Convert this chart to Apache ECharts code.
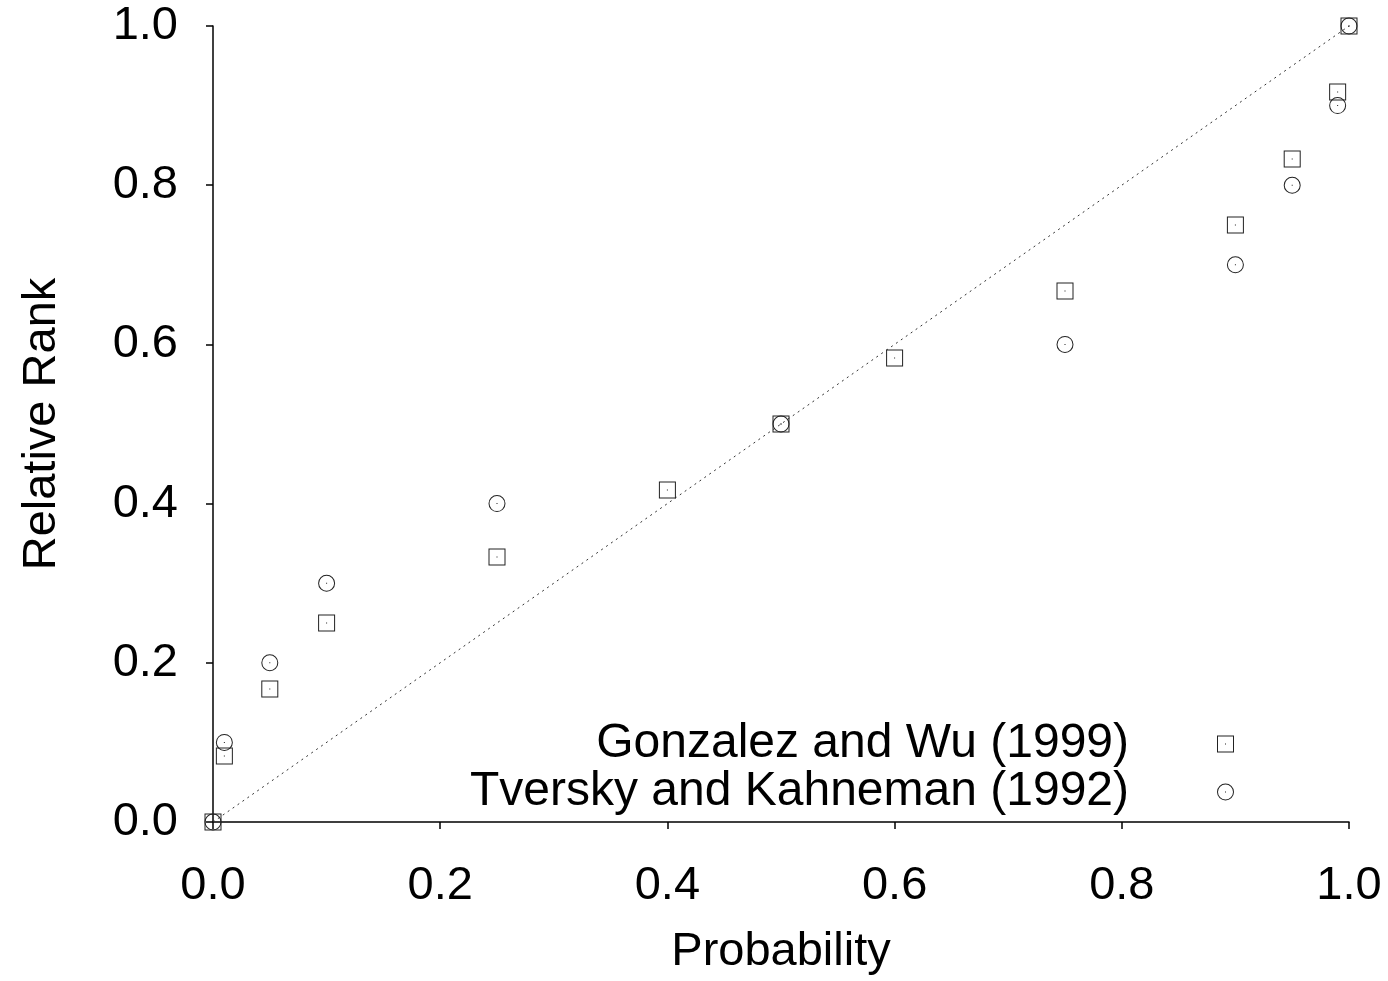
<!DOCTYPE html>
<html>
<head>
<meta charset="utf-8">
<script src="https://cdn.jsdelivr.net/npm/echarts@6/dist/echarts.min.js"></script>
<style>html,body{margin:0;padding:0;background:#fff}#c{width:1388px;height:981px}</style>
</head>
<body>
<div id="c"></div>
<script>
var gwProb = [0, 0.01, 0.05, 0.1, 0.25, 0.4, 0.5, 0.6, 0.75, 0.9, 0.95, 0.99, 1];
var gwRank = [0, 0.083, 0.167, 0.25, 0.333, 0.417, 0.5, 0.583, 0.667, 0.75, 0.833, 0.917, 1];
var tkProb = [0, 0.01, 0.05, 0.1, 0.25, 0.5, 0.75, 0.9, 0.95, 0.99, 1];
var tkRank = [0, 0.1, 0.2, 0.3, 0.4, 0.5, 0.6, 0.7, 0.8, 0.9, 1];
var diagX = [0, 1];
var diagY = [0, 1];
var tickLabels = ['0.0', '0.2', '0.4', '0.6', '0.8', '1.0'];
var seriesNames = ['Gonzalez and Wu (1999)', 'Tversky and Kahneman (1992)'];

function pairs(xs, ys) { return xs.map(function (x, i) { return [x, ys[i]]; }); }

var squarePath = 'path://M0,0 L17,0 L17,17 L0,17 Z M1,1 L1,16 L16,16 L16,1 Z M8,8 L9,8 L9,9 L8,9 Z';
var circlePath = 'path://M0,8.5 A8.5,8.5 0 1 0 17,8.5 A8.5,8.5 0 1 0 0,8.5 Z M1,8.5 A7.5,7.5 0 1 1 16,8.5 A7.5,7.5 0 1 1 1,8.5 Z M8,8 L9,8 L9,9 L8,9 Z';

var font = 'Liberation Sans';
function fmt(v) { return tickLabels[Math.round(v * 5)]; }

var chart = echarts.init(document.getElementById('c'), null, { renderer: 'canvas' });
chart.setOption({
  animation: false,
  backgroundColor: '#fff',
  grid: { left: 213, right: 39, top: 26, bottom: 157, containLabel: false },
  xAxis: {
    type: 'value', min: 0, max: 1, interval: 0.2,
    name: 'Probability', nameLocation: 'middle', nameGap: 107,
    nameTextStyle: { fontFamily: font, fontSize: 47, color: '#000' },
    axisLine: { show: true, onZero: false, lineStyle: { color: '#000', width: 1.5 } },
    axisTick: { show: true, inside: false, length: 7, lineStyle: { color: '#000', width: 1.5 } },
    axisLabel: { margin: 41, fontFamily: font, fontSize: 47, color: '#000', formatter: fmt },
    splitLine: { show: false }
  },
  yAxis: {
    type: 'value', min: 0, max: 1, interval: 0.2,
    name: 'Relative Rank', nameLocation: 'middle', nameGap: 147,
    nameTextStyle: { fontFamily: font, fontSize: 47, color: '#000' },
    axisLine: { show: true, onZero: false, lineStyle: { color: '#000', width: 1.5 } },
    axisTick: { show: true, inside: false, length: 7, lineStyle: { color: '#000', width: 1.5 } },
    axisLabel: { margin: 35, fontFamily: font, fontSize: 47, color: '#000', formatter: fmt },
    splitLine: { show: false }
  },
  legend: {
    orient: 'vertical', right: 149, top: 715, align: 'right', itemGap: 0,
    itemWidth: 17, itemHeight: 17,
    data: seriesNames,
    textStyle: { fontFamily: font, fontSize: 48, lineHeight: 48, color: '#000', padding: [0, 83, 0, 0] }
  },
  series: [
    {
      type: 'line', data: pairs(diagX, diagY), symbol: 'none', silent: true,
      lineStyle: { color: '#333', width: 1, type: [2, 4] }, z: 1
    },
    {
      name: seriesNames[0], type: 'scatter', data: pairs(gwProb, gwRank),
      symbol: squarePath, symbolSize: 17, itemStyle: { color: '#222', opacity: 1 }, z: 3
    },
    {
      name: seriesNames[1], type: 'scatter', data: pairs(tkProb, tkRank),
      symbol: circlePath, symbolSize: 17, itemStyle: { color: '#222', opacity: 1 }, z: 3
    }
  ]
});
</script>
</body>
</html>
